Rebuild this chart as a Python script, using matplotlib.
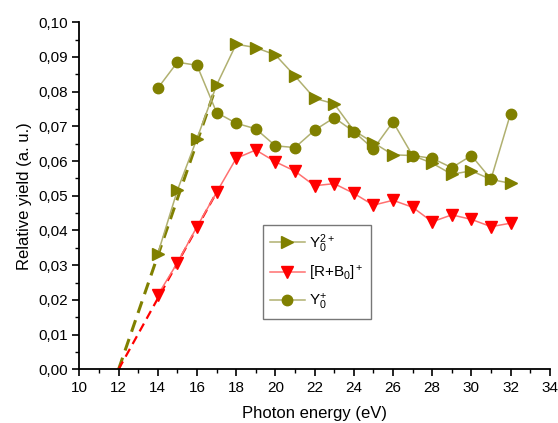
import numpy as np
import matplotlib.pyplot as plt
from matplotlib.ticker import MultipleLocator, FuncFormatter

plt.rcParams['font.family'] = ['Liberation Sans', 'DejaVu Sans']
plt.rcParams['font.size'] = 11
plt.rcParams['mathtext.fontset'] = 'custom'
plt.rcParams['mathtext.rm'] = 'Liberation Sans'
plt.rcParams['mathtext.it'] = 'Liberation Sans:italic'

# data
energy = [14, 15, 16, 17, 18, 19, 20, 21, 22, 23, 24, 25, 26, 27, 28, 29, 30, 31, 32]
y2plus = [0.0333, 0.0516, 0.0665, 0.0819, 0.0937, 0.0927, 0.0906, 0.0845, 0.0781, 0.0765,
          0.0688, 0.0653, 0.0618, 0.0616, 0.0594, 0.0562, 0.0572, 0.0547, 0.0536]
rb_plus = [0.0214, 0.0307, 0.0411, 0.0510, 0.0608, 0.0632, 0.0598, 0.0571, 0.0529, 0.0535,
           0.0507, 0.0473, 0.0487, 0.0467, 0.0425, 0.0445, 0.0432, 0.0411, 0.0421]
yplus = [0.0810, 0.0885, 0.0876, 0.0740, 0.0709, 0.0693, 0.0644, 0.0639, 0.0689, 0.0725,
         0.0685, 0.0635, 0.0713, 0.0616, 0.0608, 0.0581, 0.0616, 0.0548, 0.0737]

# linear extrapolation to threshold (dashed)
fit_x = [12, 17]
fit_y2plus = [0.0, 0.0819]
fit_rb = [0.0, 0.0510]

olive = '#808000'
olive_line = '#b0b070'
red = '#ff0000'
red_line = '#ff7070'

fig = plt.figure(figsize=(5.58, 4.23), dpi=100)
ax = fig.add_axes([0.1423, 0.127, 0.843, 0.8203])

ax.plot(fit_x, fit_y2plus, ls=(0, (4, 2.5)), color=olive, lw=2.2, zorder=2)
ax.plot(fit_x, fit_rb, ls=(0, (4, 2.5)), color=red, lw=1.6, zorder=2)

ax.plot(energy, y2plus, color=olive_line, lw=1.1, zorder=3)
ax.plot(energy, y2plus, ls='none', marker='>', ms=8.5, color=olive, mec=olive, zorder=4)
ax.plot(energy, rb_plus, color=red_line, lw=1.1, zorder=3)
ax.plot(energy, rb_plus, ls='none', marker='v', ms=8.5, color=red, mec=red, zorder=4)
ax.plot(energy, yplus, color=olive_line, lw=1.1, zorder=3)
ax.plot(energy, yplus, ls='none', marker='o', ms=7.5, color=olive, mec=olive, zorder=4)

# legend proxies
h1, = ax.plot([], [], color=olive_line, lw=1.1, marker='>', ms=8.5, mfc=olive, mec=olive)
h2, = ax.plot([], [], color=red_line, lw=1.1, marker='v', ms=8.5, mfc=red, mec=red)
h3, = ax.plot([], [], color=olive_line, lw=1.1, marker='o', ms=7.5, mfc=olive, mec=olive)
leg = ax.legend([h1, h2, h3], [r'Y$_0^{2+}$', r'[R+B$_0$]$^+$', r'Y$_0^{+}$'],
                loc='upper left', bbox_to_anchor=(0.39, 0.415), fancybox=False,
                edgecolor='#555555', fontsize=11, handlelength=2.3, labelspacing=0.6,
                borderpad=0.45, borderaxespad=0, handletextpad=0.3, markerfirst=True)
leg.get_frame().set_linewidth(1.0)

ax.set_xlim(10, 34)
ax.set_ylim(0, 0.10)
ax.xaxis.set_major_locator(MultipleLocator(2))
ax.xaxis.set_minor_locator(MultipleLocator(1))
ax.yaxis.set_major_locator(MultipleLocator(0.01))
ax.yaxis.set_minor_locator(MultipleLocator(0.005))
ax.yaxis.set_major_formatter(FuncFormatter(lambda v, p: f'{v:.2f}'.replace('.', ',')))
ax.tick_params(which='major', direction='out', length=5, width=1.2, labelsize=11)
ax.tick_params(which='minor', direction='out', length=3, width=1.0)

ax.spines['top'].set_visible(False)
ax.spines['right'].set_visible(False)
ax.spines['left'].set_linewidth(1.3)
ax.spines['bottom'].set_linewidth(1.3)

ax.set_xlabel('Photon energy (eV)', fontsize=12, labelpad=8)
ax.set_ylabel('Relative yield (a. u.)', fontsize=12, labelpad=4)

fig.savefig('out.png', dpi=100)
